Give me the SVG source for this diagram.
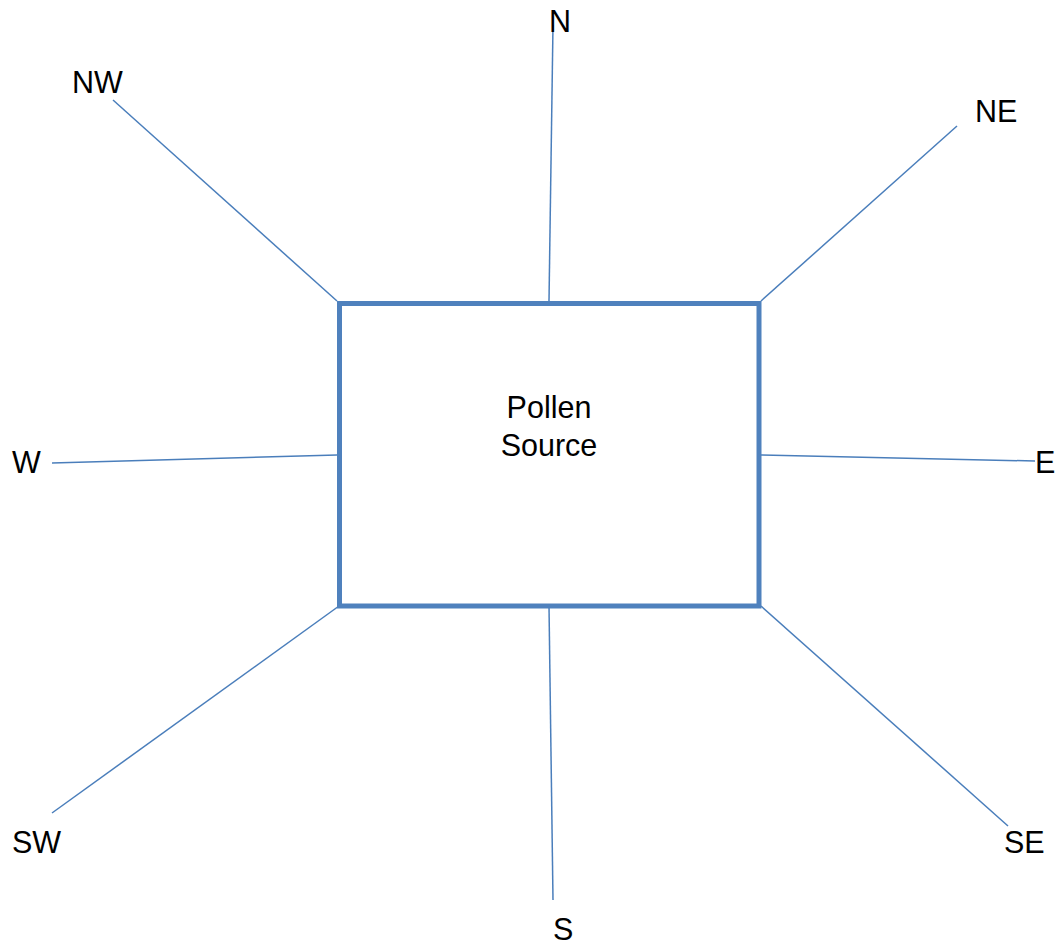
<svg xmlns="http://www.w3.org/2000/svg" width="1061" height="944" viewBox="0 0 1061 944">
<style>
.lbl{font-family:"Liberation Sans",Arial,sans-serif;font-size:30.5px;fill:#000}
.ray{stroke:#4A7EBB;stroke-width:1.5;fill:none}
.box{stroke:#4F81BD;stroke-width:5;fill:#fff}
</style>
<rect width="1061" height="944" fill="#fff"/>
<g id="connectors">
<line class="ray" x1="549" y1="301" x2="553" y2="25"/>
<line class="ray" x1="337" y1="301" x2="113" y2="100"/>
<line class="ray" x1="761" y1="301" x2="957" y2="126"/>
<line class="ray" x1="337" y1="455" x2="52" y2="463"/>
<line class="ray" x1="761" y1="455" x2="1035" y2="461"/>
<line class="ray" x1="339" y1="606" x2="52" y2="813"/>
<line class="ray" x1="761" y1="606" x2="1008" y2="826"/>
<line class="ray" x1="549" y1="606" x2="553" y2="900"/>
</g>
<g id="source">
<rect class="box" x="339.5" y="303.5" width="419.5" height="302.5"/>
<text class="lbl" x="549" y="418" text-anchor="middle">Pollen</text>
<text class="lbl" x="549" y="456" text-anchor="middle">Source</text>
</g>
<g id="N"><text class="lbl" x="549" y="32">N</text></g>
<g id="NW"><text class="lbl" x="72" y="93">NW</text></g>
<g id="NE"><text class="lbl" x="975" y="122">NE</text></g>
<g id="W"><text class="lbl" x="12" y="473">W</text></g>
<g id="E"><text class="lbl" x="1035" y="473">E</text></g>
<g id="SW"><text class="lbl" x="12" y="853">SW</text></g>
<g id="SE"><text class="lbl" x="1004" y="853">SE</text></g>
<g id="S"><text class="lbl" x="553" y="940">S</text></g>
</svg>
